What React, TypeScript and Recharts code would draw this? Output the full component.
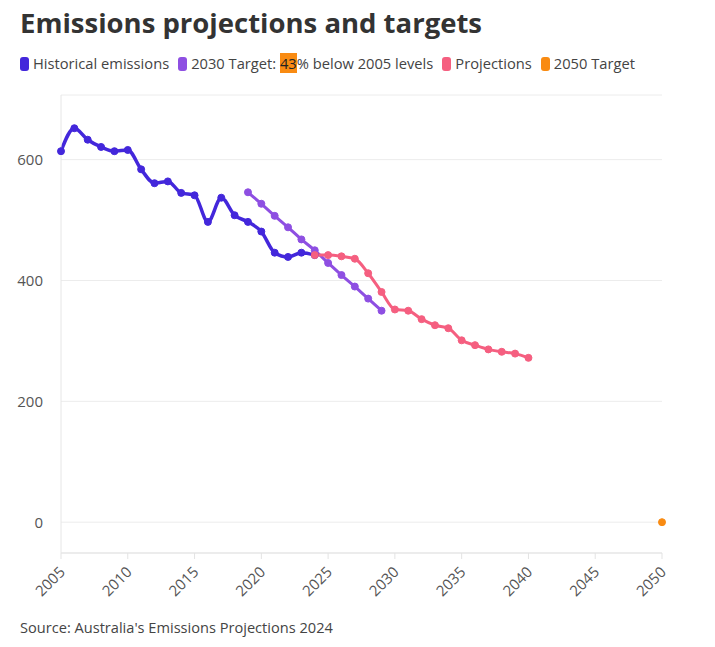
import React from "react";
import { LineChart, Line, XAxis, YAxis, CartesianGrid } from "recharts";

const historicalYears = [2005, 2006, 2007, 2008, 2009, 2010, 2011, 2012, 2013, 2014, 2015, 2016, 2017, 2018, 2019, 2020, 2021, 2022, 2023, 2024];
const historicalValues = [614, 652, 633, 621, 614, 616, 584, 561, 564, 545, 541, 497, 537, 508, 497, 481, 446, 439, 446, 442];

const target2030Years = [2019, 2020, 2021, 2022, 2023, 2024, 2025, 2026, 2027, 2028, 2029];
const target2030Values = [546, 527, 507, 488, 468, 450, 429, 409, 390, 370, 350];

const projectionYears = [2024, 2025, 2026, 2027, 2028, 2029, 2030, 2031, 2032, 2033, 2034, 2035, 2036, 2037, 2038, 2039, 2040];
const projectionValues = [442, 442, 440, 436, 412, 381, 352, 350, 336, 326, 321, 301, 293, 286, 282, 279, 272];

const target2050Years = [2050];
const target2050Values = [0];

const xTicks = [2005, 2010, 2015, 2020, 2025, 2030, 2035, 2040, 2045, 2050];
const yTicks = [0, 200, 400, 600];

const COLORS = {
  hist: "#4327db",
  t2030: "#8e4fe2",
  proj: "#f55f80",
  t2050: "#f98b12",
};

type Row = { year: number; hist?: number; t2030?: number; proj?: number; t2050?: number };

const rows: Row[] = [];
for (let y = 2005; y <= 2050; y++) {
  const r: Row = { year: y };
  const hi = historicalYears.indexOf(y);
  if (hi >= 0) r.hist = historicalValues[hi];
  const ti = target2030Years.indexOf(y);
  if (ti >= 0) r.t2030 = target2030Values[ti];
  const pi = projectionYears.indexOf(y);
  if (pi >= 0) r.proj = projectionValues[pi];
  const oi = target2050Years.indexOf(y);
  if (oi >= 0) r.t2050 = target2050Values[oi];
  rows.push(r);
}

const FONT = "'Open Sans', 'Noto Sans', sans-serif";

const XTick = (props: any) => {
  const { x, y, payload } = props;
  const tx = x + 5;
  const ty = y + 12;
  return (
    <text
      x={tx}
      y={ty}
      transform={`rotate(-45, ${tx}, ${ty})`}
      textAnchor="end"
      fontSize={15}
      fill="#555"
      fontFamily={FONT}
    >
      {payload.value}
    </text>
  );
};

const Swatch = ({ color }: { color: string }) => (
  <span
    style={{
      display: "inline-block",
      width: 9,
      height: 14,
      borderRadius: 3,
      background: color,
      marginRight: 4,
      verticalAlign: -2,
    }}
  />
);

export default function App() {
  return (
    <div style={{ position: "absolute", left: 0, top: 0, width: 715, height: 647, background: "#fff", fontFamily: FONT }}>
      <div style={{ position: "absolute", left: 20, top: 4, fontSize: 27.5, fontWeight: 700, color: "#333", whiteSpace: "nowrap" }}>
        Emissions projections and targets
      </div>
      <div style={{ position: "absolute", left: 20, top: 53, fontSize: 14.7, color: "#444", whiteSpace: "nowrap" }}>
        <Swatch color={COLORS.hist} />Historical emissions
        <span style={{ marginLeft: 9 }} />
        <Swatch color={COLORS.t2030} />2030 Target: <span style={{ background: COLORS.t2050, color: "#222" }}>43</span>% below 2005 levels
        <span style={{ marginLeft: 9 }} />
        <Swatch color={COLORS.proj} />Projections
        <span style={{ marginLeft: 9 }} />
        <Swatch color={COLORS.t2050} />2050 Target
      </div>
      <div style={{ position: "absolute", left: 0, top: 0 }}>
        <LineChart width={700} height={647} data={rows} margin={{ top: 95, right: 38, bottom: 0, left: 0 }}>
          <CartesianGrid vertical={false} stroke="#ececec" />
          <XAxis
            dataKey="year"
            type="number"
            domain={[2005, 2050]}
            ticks={xTicks}
            height={94}
            stroke="#e3e3e3"
            tickSize={6}
            tick={<XTick />}
            interval={0}
          />
          <YAxis
            domain={[-51, 707]}
            ticks={yTicks}
            width={61}
            stroke="#e6e6e6"
            tickLine={false}
            tickMargin={12}
            tick={{ fontSize: 15, fill: "#555", fontFamily: FONT }}
          />
          <Line dataKey="hist" type="monotone" stroke={COLORS.hist} strokeWidth={3.5} dot={{ r: 3.5, fill: COLORS.hist, stroke: COLORS.hist, strokeWidth: 1 }} isAnimationActive={false} />
          <Line dataKey="t2030" type="monotone" stroke={COLORS.t2030} strokeWidth={3} dot={{ r: 3.5, fill: COLORS.t2030, stroke: COLORS.t2030, strokeWidth: 1 }} isAnimationActive={false} />
          <Line dataKey="proj" type="monotone" stroke={COLORS.proj} strokeWidth={3} dot={{ r: 3.5, fill: COLORS.proj, stroke: COLORS.proj, strokeWidth: 1 }} isAnimationActive={false} />
          <Line dataKey="t2050" type="monotone" stroke={COLORS.t2050} strokeWidth={3} dot={{ r: 3.5, fill: COLORS.t2050, stroke: COLORS.t2050, strokeWidth: 1 }} isAnimationActive={false} />
        </LineChart>
      </div>
      <div style={{ position: "absolute", left: 20, top: 617, fontSize: 14.6, color: "#444", whiteSpace: "nowrap" }}>
        Source: Australia's Emissions Projections 2024
      </div>
    </div>
  );
}
